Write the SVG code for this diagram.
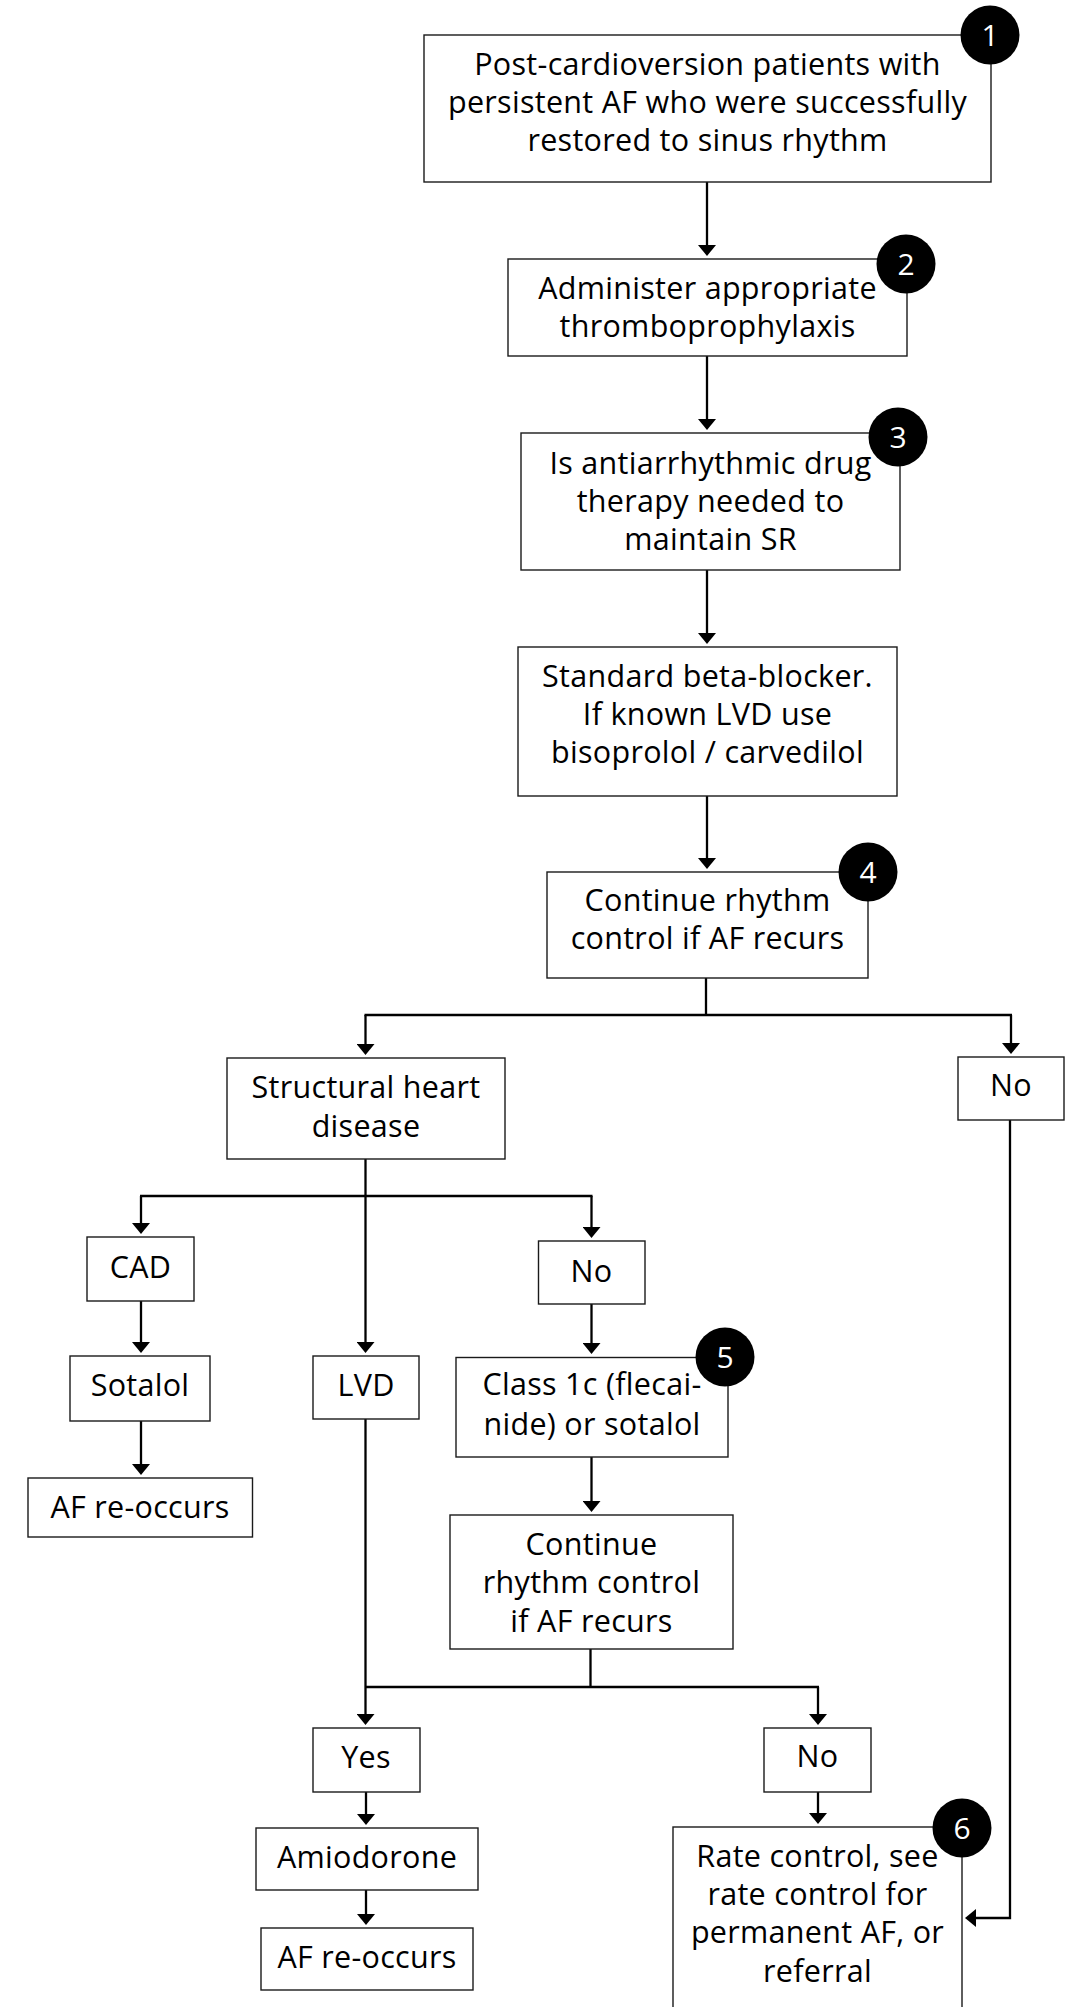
<svg xmlns="http://www.w3.org/2000/svg" width="1068" height="2007" viewBox="0 0 1068 2007">
<style>
.bx{fill:#fff;stroke:#1a1a1a;stroke-width:1.4}
.t{font-family:"Open Sans","Noto Sans","DejaVu Sans",sans-serif;font-size:30.5px;letter-spacing:0.3px;fill:#000;text-anchor:middle}
.h{stroke:#fff;stroke-width:3;paint-order:stroke;stroke-linejoin:round}
.c{fill:#000}
.n{font-family:"Open Sans","Noto Sans","DejaVu Sans",sans-serif;font-size:30px;fill:#fff;text-anchor:middle}
.ln{fill:none;stroke:#000;stroke-width:2.3}
.ar{fill:none;stroke:#000;stroke-width:2.3;marker-end:url(#ah)}
</style>
<defs>
<marker id="ah" viewBox="0 0 11 18" refX="7" refY="9" markerWidth="11" markerHeight="18" markerUnits="userSpaceOnUse" orient="auto">
<path d="M0,0 L11,9 L0,18 Z" fill="#000"/>
</marker>
</defs>
<rect width="1068" height="2007" fill="#fff"/>
<g id="connectors">
<path class="ar" d="M707,182 V252"/>
<path class="ar" d="M707,356 V426"/>
<path class="ar" d="M707,570 V640"/>
<path class="ar" d="M707,796 V865"/>
<path class="ln" d="M706,978 V1015 M364.5,1015 H1012"/>
<path class="ar" d="M365.5,1015 V1051"/>
<path class="ar" d="M1011,1015 V1050"/>
<path class="ar" d="M365.5,1159 V1349"/>
<path class="ln" d="M140,1196 H592.5"/>
<path class="ar" d="M141,1196 V1230"/>
<path class="ar" d="M591.5,1196 V1234"/>
<path class="ar" d="M141,1301 V1349"/>
<path class="ar" d="M141,1421 V1471"/>
<path class="ar" d="M591.5,1304 V1350"/>
<path class="ar" d="M591.5,1457 V1508"/>
<path class="ln" d="M590.5,1649 V1687 M365.5,1687 H819"/>
<path class="ar" d="M365.5,1419 V1721"/>
<path class="ar" d="M818,1687 V1721"/>
<path class="ar" d="M366,1792 V1821"/>
<path class="ar" d="M366,1890 V1921"/>
<path class="ar" d="M818,1792 V1820"/>
<path class="ar" d="M1010,1120 V1918 H969"/>
</g>
<g id="n1">
<rect class="bx" x="424" y="35" width="567" height="147"/>
<circle class="c" cx="990" cy="35" r="29.5"/>
<text class="n" x="990" y="45.5">1</text>
<text class="t" x="707.5" y="75">Post-cardioversion patients with</text>
<text class="t" x="707.5" y="113">persistent AF who were successfully</text>
<text class="t" x="707.5" y="151">restored to sinus rhythm</text>
</g>
<g id="n2">
<rect class="bx" x="508" y="259" width="399" height="97"/>
<circle class="c" cx="906" cy="264" r="29.5"/>
<text class="n" x="906" y="274.5">2</text>
<text class="t h" x="707.5" y="299">Administer appropriate</text>
<text class="t" x="707.5" y="337">thromboprophylaxis</text>
</g>
<g id="n3">
<rect class="bx" x="521" y="433" width="379" height="137"/>
<circle class="c" cx="898" cy="437" r="29.5"/>
<text class="n" x="898" y="447.5">3</text>
<text class="t h" x="710.5" y="474">Is antiarrhythmic drug</text>
<text class="t" x="710.5" y="512">therapy needed to</text>
<text class="t" x="710.5" y="550">maintain SR</text>
</g>
<g id="n4">
<rect class="bx" x="518" y="647" width="379" height="149"/>
<text class="t" x="707.5" y="687">Standard beta-blocker.</text>
<text class="t" x="707.5" y="725">If known LVD use</text>
<text class="t" x="707.5" y="763">bisoprolol / carvedilol</text>
</g>
<g id="n5">
<rect class="bx" x="547" y="872" width="321" height="106"/>
<circle class="c" cx="868" cy="872" r="29.5"/>
<text class="n" x="868" y="882.5">4</text>
<text class="t" x="707.5" y="911">Continue rhythm</text>
<text class="t" x="707.5" y="949">control if AF recurs</text>
</g>
<g id="n6">
<rect class="bx" x="227" y="1058" width="278" height="101"/>
<text class="t" x="366" y="1098">Structural heart</text>
<text class="t" x="366" y="1137">disease</text>
</g>
<g id="n7">
<rect class="bx" x="958" y="1057" width="106" height="63"/>
<text class="t" x="1011" y="1096">No</text>
</g>
<g id="n8">
<rect class="bx" x="87" y="1237" width="107" height="64"/>
<text class="t" x="140.5" y="1278">CAD</text>
</g>
<g id="n9">
<rect class="bx" x="538.5" y="1241" width="106.5" height="63"/>
<text class="t" x="591.5" y="1282">No</text>
</g>
<g id="n10">
<rect class="bx" x="70" y="1356" width="140" height="65"/>
<text class="t" x="140" y="1396">Sotalol</text>
</g>
<g id="n11">
<rect class="bx" x="313" y="1356" width="106" height="63"/>
<text class="t" x="366" y="1396">LVD</text>
</g>
<g id="n12">
<rect class="bx" x="456" y="1357.5" width="272" height="99.5"/>
<circle class="c" cx="725" cy="1357" r="29.5"/>
<text class="n" x="725" y="1367.5">5</text>
<text class="t h" x="592" y="1395">Class 1c (flecai-</text>
<text class="t" x="592" y="1435">nide) or sotalol</text>
</g>
<g id="n13">
<rect class="bx" x="28" y="1478" width="224.5" height="59"/>
<text class="t" x="140" y="1518">AF re-occurs</text>
</g>
<g id="n14">
<rect class="bx" x="450" y="1515" width="283" height="134"/>
<text class="t" x="591.5" y="1555">Continue</text>
<text class="t" x="591.5" y="1593">rhythm control</text>
<text class="t" x="591.5" y="1632">if AF recurs</text>
</g>
<g id="n15">
<rect class="bx" x="313" y="1728" width="107" height="64"/>
<text class="t" x="366" y="1768">Yes</text>
</g>
<g id="n16">
<rect class="bx" x="764" y="1728" width="107" height="64"/>
<text class="t" x="817.5" y="1767">No</text>
</g>
<g id="n17">
<rect class="bx" x="256" y="1828" width="222" height="62"/>
<text class="t" x="367" y="1868">Amiodorone</text>
</g>
<g id="n18">
<rect class="bx" x="261" y="1928" width="212" height="62"/>
<text class="t" x="367" y="1968">AF re-occurs</text>
</g>
<g id="n19">
<rect class="bx" x="673" y="1827" width="289" height="220"/>
<circle class="c" cx="962" cy="1828" r="29.5"/>
<text class="n" x="962" y="1838.5">6</text>
<text class="t h" x="817.5" y="1867">Rate control, see</text>
<text class="t" x="817.5" y="1905">rate control for</text>
<text class="t" x="817.5" y="1943">permanent AF, or</text>
<text class="t" x="817.5" y="1982">referral</text>
</g>
</svg>
